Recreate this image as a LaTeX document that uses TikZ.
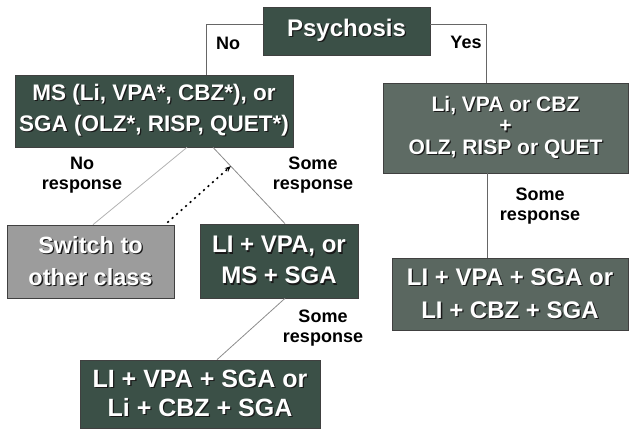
\documentclass[tikz,border=0pt]{standalone}
\usepackage{fontspec}
\setmainfont{Liberation Sans}
\usetikzlibrary{arrows.meta}
\definecolor{darkbox}{HTML}{3B5047}
\definecolor{midbox}{HTML}{5E6B64}
\definecolor{midboxb}{HTML}{5A6760}
\definecolor{graybox}{HTML}{9C9C9C}
\definecolor{shadowc}{HTML}{1A1A1A}
\newcommand\shd[1]{\rlap{\kern1.3bp\raisebox{-1.3bp}{\color{shadowc}#1}}#1}
\begin{document}
\begin{tikzpicture}[x=1bp,y=-1bp,
 box/.style={draw=black!75, line width=0.7bp, text=white, align=center, inner sep=0pt},
 bf/.style n args={2}{font=\fontsize{#1bp}{#2bp}\selectfont\bfseries},
 lab/.style={align=center, inner sep=0pt, bf={18}{20}},
 conn/.style={draw=black!60, line width=0.8bp},
 lconn/.style={draw=black!30, line width=0.8bp},
 mconn/.style={draw=black!45, line width=0.8bp},
 dotarrow/.style={draw=black, line width=1.6bp, dash pattern=on 2bp off 4bp, -{Stealth[length=6bp,width=5bp]}}]
\useasboundingbox (0,0) rectangle (630,433);

\node[box, fill=darkbox, minimum width=167bp, minimum height=48bp, bf={24}{28}] (psy) at (346.5,31) {\shd{Psychosis}};
\node[box, fill=darkbox, minimum width=278bp, minimum height=72bp, bf={22.5}{31}] (ms) at (154,111) {\shd{MS (Li, VPA*, CBZ*), or}\\\shd{SGA (OLZ*, RISP, QUET*)}};
\node[box, fill=midbox, minimum width=245bp, minimum height=90bp, bf={21}{21.5}] (rb1) at (505.5,128) {\shd{Li, VPA or CBZ}\\\shd{+}\\\shd{OLZ, RISP or QUET}};
\node[box, fill=graybox, minimum width=167bp, minimum height=73bp, bf={23.5}{32}] (sw) at (90.5,261.5) {\shd{Switch to}\\\shd{other class}};
\node[box, fill=darkbox, minimum width=158bp, minimum height=74bp, bf={24}{31}] (lv) at (279,261) {\shd{LI + VPA, or}\\\shd{MS + SGA}};
\node[box, fill=midboxb, minimum width=236bp, minimum height=72bp, bf={24}{33}] (rb2) at (510,294) {\shd{LI + VPA + SGA or}\\\shd{LI + CBZ + SGA}};
\node[box, fill=darkbox, minimum width=240bp, minimum height=68bp, bf={25}{29}] (bb) at (200,394) {\shd{LI + VPA + SGA or}\\\shd{Li + CBZ + SGA}};

\node[lab] (lno) at (228,43) {No};
\node[lab] (lyes) at (466,42) {Yes};
\node[lab] (lnr) at (82,175) {No\\response};
\node[lab] (lsr1) at (313,175) {Some\\response};
\node[lab] (lsr2) at (540,206) {Some\\response};
\node[lab] (lsr3) at (323,328) {Some\\response};

\draw[conn] ([yshift=7bp]psy.west) -| ([xshift=52bp]ms.north);
\draw[conn] ([yshift=7bp]psy.east) -| ([xshift=-19.5bp]rb1.north);
\draw[conn] ([xshift=-18.5bp]rb1.south) -- ([xshift=-18.5bp]rb1.south |- rb2.north);
\draw[lconn] ([xshift=33bp]ms.south) -- ([xshift=2.5bp]sw.north);
\draw[mconn] ([xshift=59bp]ms.south) -- ([xshift=6bp]lv.north) coordinate[pos=0.247] (hit);
\draw[mconn] ([xshift=6bp]lv.south) -- ([xshift=17bp]bb.north);
\draw[dotarrow] ([xshift=-7bp,yshift=2bp]sw.north east) -- (hit);
\end{tikzpicture}
\end{document}
